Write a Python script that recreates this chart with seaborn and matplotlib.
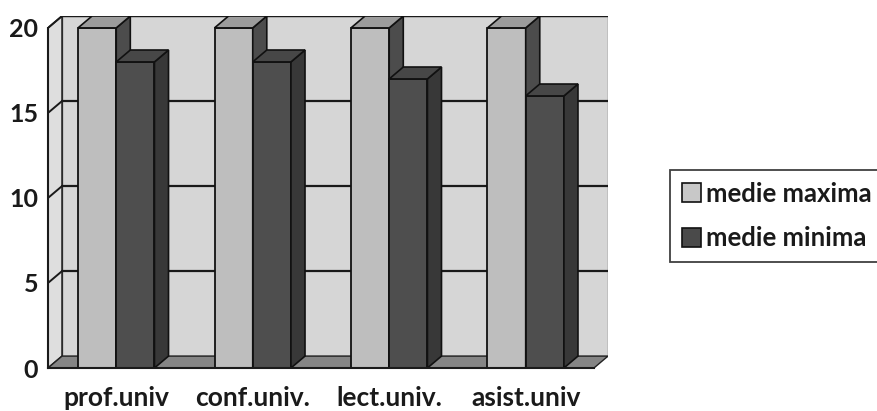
import matplotlib
matplotlib.use("Agg")
import matplotlib.pyplot as plt
from matplotlib.patches import Polygon, Rectangle, Patch
import pandas as pd
import seaborn as sns

# data
categories = ["prof.univ", "conf.univ.", "lect.univ.", "asist.univ"]
medie_maxima = [20, 20, 20, 20]
medie_minima = [18, 18, 17, 16]
series_names = ["medie maxima", "medie minima"]
y_ticks = [0, 5, 10, 15, 20]

df = pd.DataFrame({
    "categorie": categories * 2,
    "serie": [series_names[0]] * 4 + [series_names[1]] * 4,
    "valoare": medie_maxima + medie_minima,
})

sns.set_style("white")
plt.rcParams["font.family"] = ["Lato", "DejaVu Sans"]
plt.rcParams["font.weight"] = "bold"

# fake 3d depth (in data units)
DX, DY = 0.103, 0.7

front = {"medie maxima": "#bebebe", "medie minima": "#4e4e4e"}
side = {"medie maxima": "#4c4c4c", "medie minima": "#383838"}
top = {"medie maxima": "#9c9c9c", "medie minima": "#474747"}

fig = plt.figure(figsize=(8.78, 4.11), dpi=100)
ax = fig.add_axes([48 / 878, 1 - 368 / 411, (608 - 48) / 878, (368 - 16) / 411])

# walls and floor
ax.add_patch(Rectangle((-0.5 + DX, DY), 4, 20, fc="#d6d6d6", ec="#6a6a6a", lw=1, zorder=0))
ax.add_patch(Polygon([(-0.5, 0), (-0.5 + DX, DY), (-0.5 + DX, 20 + DY), (-0.5, 20)],
                     closed=True, fc="#dedede", ec="#222222", lw=1.2, zorder=0.5))
ax.add_patch(Polygon([(-0.5, 0), (3.5, 0), (3.5 + DX, DY), (-0.5 + DX, DY)],
                     closed=True, fc="#858585", ec="#222222", lw=1, zorder=0.5))
for v in y_ticks[1:]:
    ax.plot([-0.5 + DX, 3.5 + DX], [v + DY, v + DY], color="#1a1a1a", lw=1.6, zorder=1)
    ax.plot([-0.5, -0.5 + DX], [v, v + DY], color="#1a1a1a", lw=1.4, zorder=1)

sns.barplot(data=df, x="categorie", y="valoare", hue="serie", palette=front,
            width=0.56, edgecolor="#111111", linewidth=1.3, legend=False, ax=ax)

# sides and tops of the bars
for k, cont in enumerate(ax.containers):
    name = series_names[k]
    for p in cont.patches:
        p.set_zorder(3 + k)
        x0, w, h = p.get_x(), p.get_width(), p.get_height()
        ax.add_patch(Polygon([(x0 + w, 0), (x0 + w + DX, DY), (x0 + w + DX, h + DY), (x0 + w, h)],
                             closed=True, fc=side[name], ec="#111111", lw=1.2, zorder=3 + k))
        ax.add_patch(Polygon([(x0, h), (x0 + DX, h + DY), (x0 + w + DX, h + DY), (x0 + w, h)],
                             closed=True, fc=top[name], ec="#111111", lw=1.2, zorder=3 + k))

ax.set_xlim(-0.5, 3.5 + DX)
ax.set_ylim(0, 20 + DY)
ax.set_xlabel("")
ax.set_ylabel("")

for s in ["top", "right"]:
    ax.spines[s].set_visible(False)
ax.spines["left"].set_bounds(0, 20)
ax.spines["bottom"].set_bounds(-0.5, 3.5)
for s in ["left", "bottom"]:
    ax.spines[s].set_linewidth(1.5)
    ax.spines[s].set_color("#1a1a1a")
    ax.spines[s].set_zorder(6)

ax.set_yticks(y_ticks)
ax.set_yticklabels([str(t) for t in y_ticks], fontsize=18, fontweight="bold", color="#1a1a1a")
ax.tick_params(axis="y", direction="out", length=5, width=1.4, pad=2, color="#1a1a1a")

ax.set_xticks([-0.5, 0.5, 1.5, 2.5, 3.5])
ax.set_xticklabels([])
ax.set_xticks(range(len(categories)), minor=True)
ax.set_xticklabels(categories, minor=True, fontsize=19, fontweight="bold", color="#1a1a1a")
ax.tick_params(axis="x", which="major", direction="out", length=6, width=1.4, color="#1a1a1a")
ax.tick_params(axis="x", which="minor", length=0, pad=13)

handles = [Patch(fc="#c8c8c8", ec="#111111", lw=1.2), Patch(fc="#4a4a4a", ec="#111111", lw=1.2)]
leg = fig.legend(handles, series_names, loc="upper left", bbox_to_anchor=(670 / 878, 1 - 170 / 411),
                 frameon=True, fancybox=False, edgecolor="#111111", fontsize=18.5,
                 handlelength=0.75, handleheight=0.75, handletextpad=0.2, labelspacing=0.8,
                 borderpad=0.45, borderaxespad=0)
leg.get_frame().set_linewidth(1.3)
for t in leg.get_texts():
    t.set_fontweight("bold")
    t.set_color("#1a1a1a")

fig.savefig("out.png", dpi=100)
